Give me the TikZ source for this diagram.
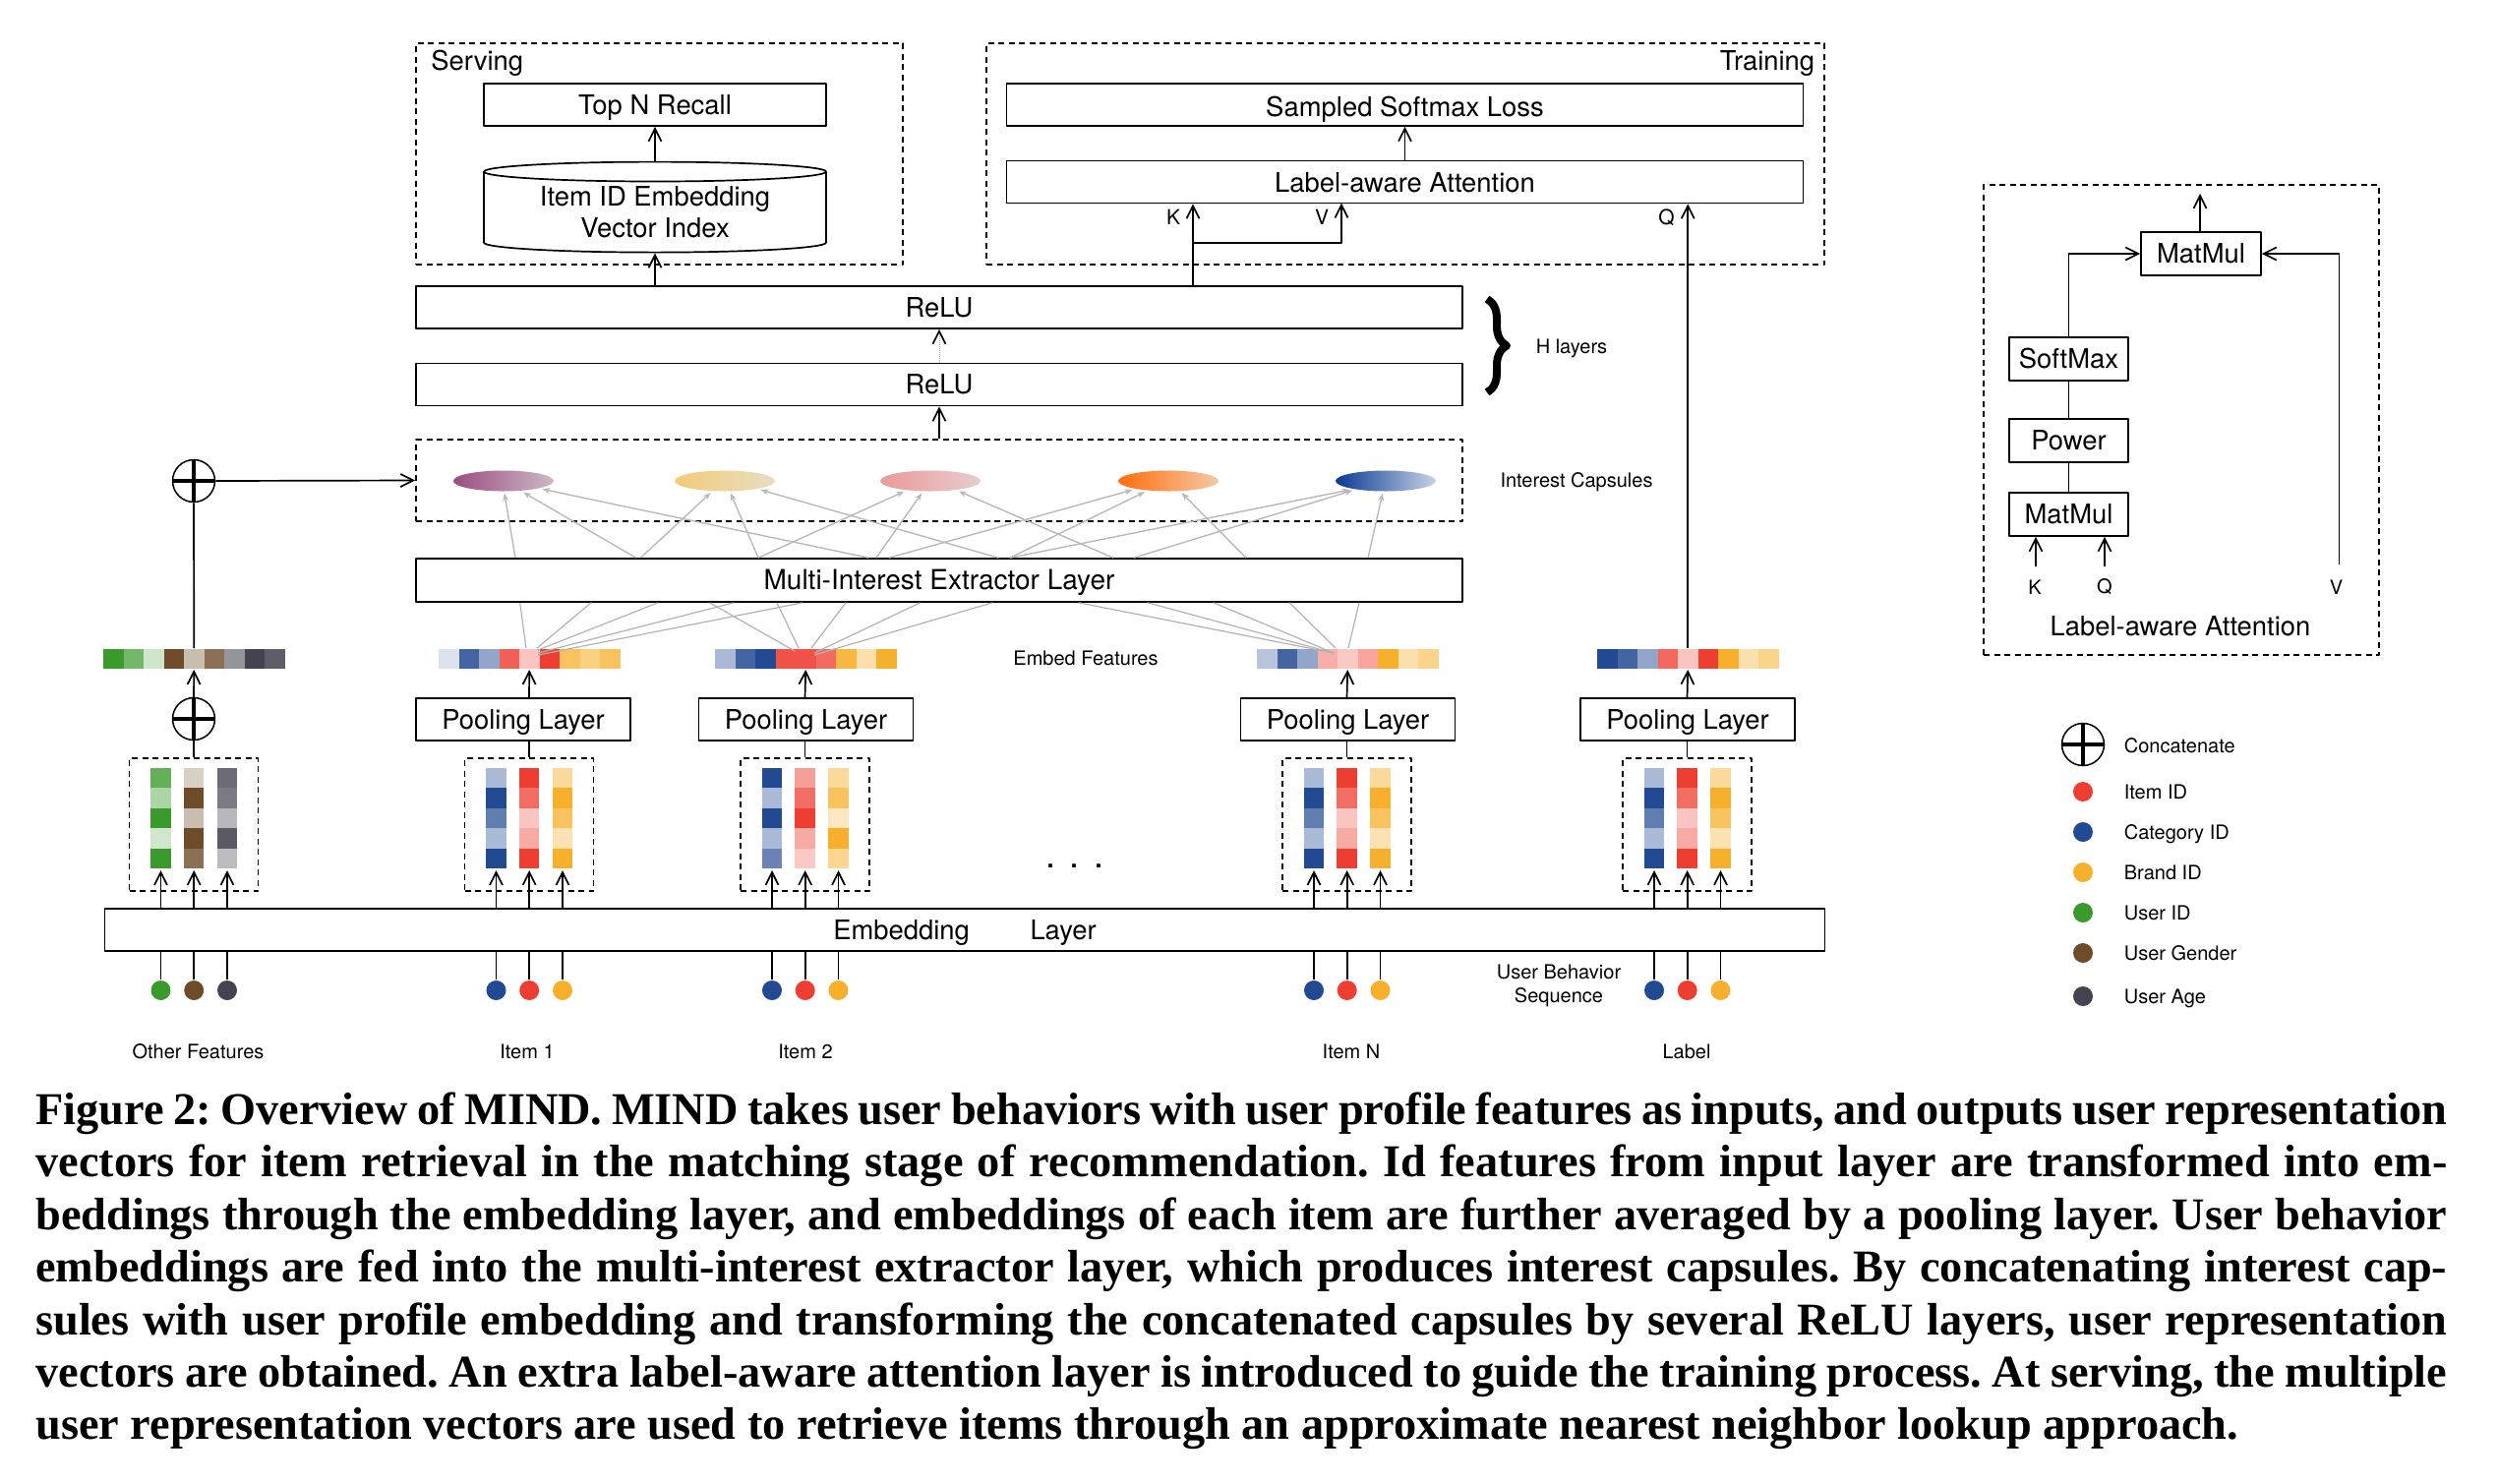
\documentclass[tikz,border=0pt]{standalone}
\usepackage{fontspec}
\setmainfont{Liberation Serif}
\setsansfont{TeX Gyre Heros}
\usetikzlibrary{arrows.meta,calc,shapes.geometric,decorations.pathreplacing}
\definecolor{catblue}{HTML}{224A92}
\definecolor{itemred}{HTML}{EE3D31}
\definecolor{brandorg}{HTML}{F6B02C}
\definecolor{usergrn}{HTML}{3A9B2C}
\definecolor{genderbr}{HTML}{6E4C2A}
\definecolor{agegray}{HTML}{44434F}
\tikzset{
	boxtxt/.style={font=\sffamily\fontsize{27.4}{32}\selectfont},
	smalltxt/.style={font=\sffamily\fontsize{20}{24}\selectfont},
	capcenter/.style={text height=14.5pt,text depth=0pt},
	layerbox/.style={draw,rectangle,boxtxt,inner sep=0pt,text height=19.5pt,text depth=0pt},
	dashbox/.style={draw,rectangle,inner sep=0pt,dash pattern=on 6pt off 4.5pt},
	capsule/.style={ellipse,inner sep=0pt,minimum width=102pt,minimum height=21pt,outer sep=2pt},
	inputdot/.style={circle,inner sep=0pt,minimum size=20pt},
	concat/.style={circle,draw,line width=1.5pt,inner sep=0pt,minimum size=43pt,
		path picture={\draw[line width=3.5pt] (path picture bounding box.north)--(path picture bounding box.south)
			(path picture bounding box.west)--(path picture bounding box.east);}},
	capline/.style={-{Stealth[length=8pt,width=6pt]},gray!55,line width=1.4pt},
	featline/.style={gray!60,line width=1.2pt}
}
% one row of an embed feature, and one column of an item
\newcommand{\featbar}[3]{%
	\foreach \col [count=\i from 0] in {#3} \fill[\col] ({#2+\i*20.5},660) rectangle +(20.5,20);
	\node[inner sep=0pt,outer sep=1pt,minimum width=184.5pt,minimum height=20pt] (#1) at ({#2+92.25},670) {};}
\newcommand{\featcol}[2]{%
	\edef\collist{#2}%
	\foreach \col [count=\i from 0] in \collist \fill[\col] ({#1-10.25},{781+\i*20.4}) rectangle +(20.5,20.4);}
% dashed group: name, left x, dot colours, column colours
\newcommand{\inputgroup}[8]{%
	\node[dashbox,minimum width=131pt,minimum height=135pt] (#1box) at ({#2+65.5},838.5) {};
	\featcol{#2+32}{#6}
	\featcol{#2+65.7}{#7}
	\featcol{#2+99.5}{#8}
	\foreach \k/\dx/\dcol in {1/32/#3,2/65.7/#4,3/99.5/#5}{
		\node[inputdot,fill=\dcol] (#1dot\k) at ({#2+\dx},1007) {};
		\node[inner sep=0pt,outer sep=2pt,minimum width=20pt,minimum height=102pt] (#1col\k) at ({#2+\dx},832) {};
		\draw (#1dot\k.north) -- (#1dot\k.north |- embed.south);
		\draw[->] (#1col\k.south |- embed.north) -- (#1col\k.south);
	}}
\newcommand{\itemcolsA}{catblue!38,catblue,catblue!72,catblue!38,catblue}
\newcommand{\itemcolsB}{itemred,itemred!75,itemred!30,itemred!44,itemred}
\newcommand{\itemcolsC}{brandorg!48,brandorg,brandorg!76,brandorg!36,brandorg}
\begin{document}
\begin{tikzpicture}[x=1pt,y=-1pt,line join=round,line width=1.7pt,>={Straight Barb[length=13pt,width=13pt]}]
	\useasboundingbox (0,0) rectangle (2540,1508);
	%Serving and training
	\node[dashbox,minimum width=495pt,minimum height=225pt] (serving) at (670.5,156.5) {};
	\node[dashbox,minimum width=852pt,minimum height=225pt] (training) at (1429,156.5) {};
	\node[boxtxt,anchor=west,inner sep=0pt] (servingtxt) at (437.5,64) {Serving};
	\node[boxtxt,anchor=east,inner sep=0pt] (trainingtxt) at (1846,64) {Training};
	\node[layerbox,minimum width=348pt,minimum height=43pt] (topn) at (666,106.5) {Top N Recall};
	\node[draw,cylinder,shape border rotate=90,shape aspect=0.085,boxtxt,align=center,inner sep=0pt,minimum width=348pt,minimum height=92pt] (vecindex) at (666,216) {Item ID Embedding\\Vector Index};
	\node[layerbox,minimum width=810pt,minimum height=43pt,text height=23pt] (sampled) at (1428.5,106.5) {Sampled Softmax Loss};
	\node[layerbox,minimum width=810pt,minimum height=43pt,text height=21.5pt] (attention) at (1428.5,185) {Label-aware Attention};
	\draw[->] (vecindex.north) -- (topn.south);
	\draw[->] (attention.north) -- (sampled.south);
	%ReLU layers
	\node[layerbox,minimum width=1064pt,minimum height=43pt] (relutop) at (955,312.5) {ReLU};
	\node[layerbox,minimum width=1064pt,minimum height=43pt] (relubot) at (955,391) {ReLU};
	\draw[decorate,decoration={brace,amplitude=20pt},line width=8pt] (1512,304)--(1512,399);
	\node[smalltxt,capcenter] (hlayers) at (1598,352) {H layers};
	\draw[->] (relutop.north -| vecindex) -- (vecindex.south);
	\draw[-{Straight Barb[length=13pt,width=13pt,line width=1.7pt,color=black]},densely dotted,gray!70,line width=1pt] (relubot.north) -- (relutop.south);
	\coordinate (kv) at (1213,247);
	\coordinate (vin) at (1364,206.5);
	\draw[->] (relutop.north -| kv) -- (kv) -- (kv |- attention.south);
	\draw[->] (kv) -| (vin);
	\node[font=\sffamily\fontsize{21}{24}\selectfont] (ktxt) at (1193,221) {K};
	\node[font=\sffamily\fontsize{21}{24}\selectfont] (vtxt) at (1344,221) {V};
	\node[font=\sffamily\fontsize{21}{24}\selectfont] (qtxt) at (1694.5,221) {Q};
	%Interest capsules
	\node[dashbox,minimum width=1064pt,minimum height=83pt] (interest) at (955,488.5) {};
	\node[smalltxt,capcenter] (interesttxt) at (1603,488) {Interest Capsules};
	\foreach \k/\cx/\cl/\cr in {1/512/{rgb,255:red,155;green,77;blue,127}/{rgb,255:red,205;green,185;blue,200},
		2/737/{rgb,255:red,243;green,203;blue,122}/{rgb,255:red,232;green,222;blue,195},
		3/946/{rgb,255:red,234;green,154;blue,154}/{rgb,255:red,232;green,205;blue,205},
		4/1188/{rgb,255:red,255;green,111;blue,16}/{rgb,255:red,245;green,200;blue,165},
		5/1409/{rgb,255:red,10;green,58;blue,148}/{rgb,255:red,200;green,210;blue,228}}
		\node[capsule,left color=\cl,right color=\cr] (cap\k) at (\cx,489) {};
	\draw[->] (relubot.south |- interest.north) -- (relubot.south);
	\node[layerbox,minimum width=1064pt,minimum height=44pt,font=\sffamily\fontsize{28}{32}\selectfont] (extractor) at (955,590) {Multi-Interest Extractor Layer};
	\foreach \sx/\k/\ang in {524/1/274,646.6/1/330,883/1/348,651.5/2/220,771/2/295,1015/2/346,
		771/3/202,891/3/235,1132/3/340,904/4/194,1027/4/205,1267/4/318,1027/5/194,1153/5/196,1391/5/256}
		\draw[capline] (\sx,0 |- extractor.north) -- (cap\k.\ang);
	%Embedding layer and the inputs
	\node[layerbox,minimum width=1749pt,minimum height=43pt] (embed) at (981,945.5) {Embedding\hspace{54pt} Layer};
	\inputgroup{other}{131.5}{usergrn}{genderbr}{agegray}
		{usergrn!79,usergrn!42,usergrn,usergrn!24,usergrn}
		{genderbr!27,genderbr,genderbr!37,genderbr,genderbr!80}
		{agegray!78,agegray!70,agegray!38,agegray!88,agegray!36}
	\inputgroup{itemA}{472.5}{catblue}{itemred}{brandorg}{\itemcolsA}{\itemcolsB}{\itemcolsC}
	\inputgroup{itemB}{753}{catblue}{itemred}{brandorg}
		{catblue,catblue!38,catblue,catblue!38,catblue!68}
		{itemred!49,itemred!75,itemred,itemred!44,itemred!28}
		{brandorg!48,brandorg!76,brandorg!30,brandorg,brandorg!52}
	\inputgroup{itemN}{1304}{catblue}{itemred}{brandorg}{\itemcolsA}{\itemcolsB}{\itemcolsC}
	\inputgroup{label}{1650}{catblue}{itemred}{brandorg}{\itemcolsA}{\itemcolsB}{\itemcolsC}
	%Pooling and embed features
	\foreach \nm/\cx in {itemA/532,itemB/819.5,itemN/1370.5,label/1716}
		\node[layerbox,minimum width=218pt,minimum height=43pt] (pool\nm) at (\cx,731.5) {Pooling Layer};
	\node[concat] (concatlow) at (197,731) {};
	\node[concat] (concattop) at (197,489) {};
	\featbar{barother}{105}{usergrn,usergrn!71,usergrn!25,genderbr,genderbr!37,genderbr!80,agegray!57,agegray,agegray!86}
	\featbar{baritemA}{446}{catblue!16,catblue!85,catblue!49,itemred!82,itemred!30,itemred,brandorg!76,brandorg!60,brandorg!76}
	\featbar{baritemB}{727}{catblue!38,catblue!85,catblue,itemred!89,itemred!89,itemred!77,brandorg!90,brandorg!39,brandorg}
	\featbar{baritemN}{1278}{catblue!32,catblue!85,catblue!49,itemred!41,itemred!28,itemred!47,brandorg,brandorg!39,brandorg!55}
	\featbar{barlabel}{1624}{catblue,catblue!85,catblue!49,itemred!78,itemred!30,itemred,brandorg,brandorg!39,brandorg!55}
	\foreach \nm in {itemA,itemB,itemN,label}{
		\draw (\nm box.north) -- (\nm box.north |- pool\nm.south);
		\draw[->] (\nm box.north |- pool\nm.north) -- (bar\nm.south);
	}
	\draw (otherbox.north) -- (concatlow.south);
	\draw[->] (concatlow.north) -- (barother.south);
	\draw (barother.north) -- (concattop.south);
	\draw[->] (concattop.east) -- (interest.west);
	\draw[->] (barlabel.north) -- (barlabel.north |- attention.south);
	\foreach \sx/\dx/\dy in {528.7/90/0,601/101/0,669/102/2,746/102/5,816/102/7}
		\draw[featline] (\sx,0 |- extractor.south) -- ([shift={(\dx,\dy)}]baritemA.north west);
	\foreach \sx/\dx/\dy in {721.6/82/3,790/86/0,860/99/0,935.6/102/5,1009/102/7}
		\draw[featline] (\sx,0 |- extractor.south) -- ([shift={(\dx,\dy)}]baritemB.north west);
	\foreach \sx/\dx/\dy in {1097/79/5,1167/79/5,1234/79/5,1311/81/0,1382/94/0}
		\draw[featline] (\sx,0 |- extractor.south) -- ([shift={(\dx,\dy)}]baritemN.north west);
	%Texts round the inputs
	\node[smalltxt,capcenter] (embedtxt) at (1104,669) {Embed Features};
	\node[font=\sffamily\fontsize{36}{40}\selectfont,anchor=base] (moredots) at (1093,882) {.\hspace{14.5pt}.\hspace{14.5pt}.};
	\node[smalltxt,align=center] (seqtxt) at (1585,1002) {User Behavior\\Sequence};
	\node[smalltxt,capcenter] (othertxt) at (201.5,1069) {Other Features};
	\node[smalltxt,capcenter] (itemAtxt) at (536,1069) {Item 1};
	\node[smalltxt,capcenter] (itemBtxt) at (819,1069) {Item 2};
	\node[smalltxt,capcenter] (itemNtxt) at (1374,1069) {Item N};
	\node[smalltxt,capcenter] (labeltxt) at (1715,1069) {Label};
	%Label-aware attention panel
	\node[dashbox,minimum width=402pt,minimum height=478pt] (panel) at (2218,427) {};
	\node[layerbox,minimum width=122pt,minimum height=44pt] (matmultop) at (2238,258) {MatMul};
	\node[layerbox,minimum width=121pt,minimum height=44pt] (softmax) at (2103.5,365) {SoftMax};
	\node[layerbox,minimum width=121pt,minimum height=44pt] (power) at (2103.5,448) {Power};
	\node[layerbox,minimum width=121pt,minimum height=44pt] (matmullow) at (2103.5,523) {MatMul};
	\coordinate (panelout) at (2237,197);
	\coordinate (panelk) at (2070,576);
	\coordinate (panelq) at (2140,576);
	\coordinate (panelv) at (2378.5,574);
	\draw[->] (matmultop.north -| panelout) -- (panelout);
	\draw[->] (softmax.north) |- (matmultop.west);
	\draw (matmullow.north) -- (power.south) (power.north) -- (softmax.south);
	\draw[->] (panelk) -- (panelk |- matmullow.south);
	\draw[->] (panelq) -- (panelq |- matmullow.south);
	\draw[->] (panelv) |- (matmultop.east);
	\node[smalltxt] (pktxt) at (2069,597) {K};
	\node[smalltxt] (pqtxt) at (2140,597) {Q};
	\node[smalltxt] (pvtxt) at (2375.5,597) {V};
	\node[boxtxt] (paneltxt) at (2217,637) {Label-aware Attention};
	%Legend
	\node[concat] (legconcat) at (2118,757) {};
	\node[smalltxt,capcenter,anchor=west,inner sep=0pt] (legconcattxt) at (2159,758) {Concatenate};
	\foreach \k/\yy/\dcol/\txt in {a/805/itemred/Item ID,b/846/catblue/Category ID,c/887/brandorg/Brand ID,
		d/928/usergrn/User ID,e/969/genderbr/User Gender,f/1013/agegray/User Age}{
		\node[inputdot,fill=\dcol] (leg\k) at (2118,\yy) {};
		\node[smalltxt,capcenter,anchor=west,inner sep=0pt] (leg\k txt) at (2159,\yy) {\txt};
	}
	%Caption
	\node[anchor=north west,inner sep=0pt,text width=2452pt,align=justify,font=\rmfamily\bfseries\fontsize{46.3}{53.4}\selectfont] (caption) at (35.5,1110) {\frenchspacing Figure 2: Overview of MIND. MIND takes user behaviors with user profile features as inputs, and outputs user representation\linebreak
	vectors for item retrieval in the matching stage of recommendation. Id features from input layer are transformed into em-\linebreak
	beddings through the embedding layer, and embeddings of each item are further averaged by a pooling layer. User behavior\linebreak
	embeddings are fed into the multi-interest extractor layer, which produces interest capsules. By concatenating interest cap-\linebreak
	sules with user profile embedding and transforming the concatenated capsules by several ReLU layers, user representation\linebreak
	vectors are obtained. An extra label-aware attention layer is introduced to guide the training process. At serving, the multiple\linebreak
	user representation vectors are used to retrieve items through an approximate nearest neighbor lookup approach.};
\end{tikzpicture}
\end{document}
